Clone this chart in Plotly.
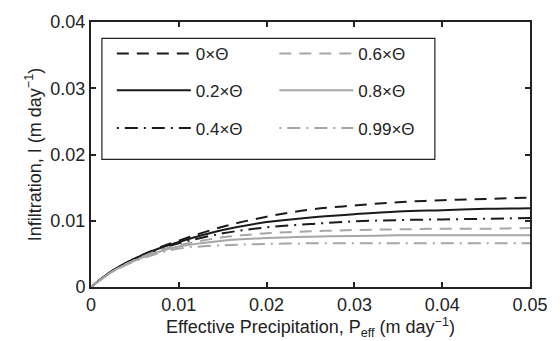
import plotly.graph_objects as go

# Effective precipitation (m/day)
p_eff = [0, 0.0025, 0.005, 0.0075, 0.01, 0.015, 0.02, 0.025, 0.03, 0.035, 0.04, 0.045, 0.05]

# Infiltration (m/day) for each fraction of Theta
inf_0 = [0, 0.0025, 0.0043, 0.0058, 0.0070, 0.0091, 0.0106, 0.0117, 0.0123, 0.0128, 0.0131, 0.0133, 0.0135]
inf_02 = [0, 0.0025, 0.0043, 0.0057, 0.0068, 0.0086, 0.0098, 0.0105, 0.0110, 0.0114, 0.0116, 0.0118, 0.0119]
inf_04 = [0, 0.0025, 0.0042, 0.0056, 0.0066, 0.0081, 0.0090, 0.0095, 0.0099, 0.0101, 0.0102, 0.0103, 0.0104]
inf_06 = [0, 0.0024, 0.0041, 0.0054, 0.0063, 0.0075, 0.0081, 0.0084, 0.0086, 0.0087, 0.0088, 0.0088, 0.0089]
inf_08 = [0, 0.0024, 0.0040, 0.0052, 0.0061, 0.0070, 0.0074, 0.0076, 0.0077, 0.0078, 0.0078, 0.0078, 0.0078]
inf_099 = [0, 0.0023, 0.0039, 0.0050, 0.0058, 0.0063, 0.0065, 0.0066, 0.0066, 0.0066, 0.0066, 0.0066, 0.0066]

labels = ["0×Θ", "0.2×Θ", "0.4×Θ", "0.6×Θ", "0.8×Θ", "0.99×Θ"]
series = [inf_0, inf_02, inf_04, inf_06, inf_08, inf_099]

x_ticks = [0, 0.01, 0.02, 0.03, 0.04, 0.05]
x_ticktext = ["0", "0.01", "0.02", "0.03", "0.04", "0.05"]
y_ticks = [0, 0.01, 0.02, 0.03, 0.04]
y_ticktext = ["0", "0.01", "0.02", "0.03", "0.04"]

BLACK = "#1a1a1a"
GRAY = "#a6a6a6"
DASH = "12px,8px"
DASHDOT = "2px,6px,13px,6px"
styles = [
    (BLACK, DASH), (BLACK, "solid"), (BLACK, DASHDOT),
    (GRAY, DASH), (GRAY, "solid"), (GRAY, DASHDOT),
]

# legend item positions (paper coords): two columns, three rows
W, H = 443.0, 274.0
col_x = [(112 - 91) / W, (276 - 91) / W]
row_y = [(287 - 46) / H, (287 - 84) / H, (287 - 123) / H]

fig = go.Figure()
for i, (lab, ys) in enumerate(zip(labels, series)):
    color, dash = styles[i]
    lname = "legend" if i == 0 else f"legend{i+1}"
    fig.add_trace(go.Scatter(
        x=p_eff, y=ys, mode="lines", name=lab,
        line=dict(color=color, width=2, dash=dash, shape="spline"),
        legend=lname,
    ))

legend_layouts = {}
for i in range(6):
    lname = "legend" if i == 0 else f"legend{i+1}"
    legend_layouts[lname] = dict(
        x=col_x[i // 3], y=row_y[i % 3], xanchor="left", yanchor="middle",
        bgcolor="rgba(0,0,0,0)", borderwidth=0, itemwidth=74,
        font=dict(size=17, color="#222"),
    )

fig.update_layout(
    width=560, height=341,
    margin=dict(l=91, r=26, t=13, b=54),
    paper_bgcolor="white", plot_bgcolor="white",
    font=dict(family="Liberation Sans, Arial, sans-serif", size=18, color="#222"),
    showlegend=True,
    **legend_layouts,
    xaxis=dict(
        range=[0, 0.05], tickvals=x_ticks, ticktext=x_ticktext,
        ticks="inside", ticklen=5, tickwidth=1.5, tickcolor="#222",
        showline=True, linecolor="#222", linewidth=2, mirror="ticks",
        showgrid=False, zeroline=False, tickfont=dict(size=18),
        title=dict(text="Effective Precipitation, P<sub>eff</sub> (m day<sup>−1</sup>)", standoff=0, font=dict(size=18)),
    ),
    yaxis=dict(
        range=[0, 0.04], tickvals=y_ticks, ticktext=y_ticktext,
        ticks="inside", ticklen=5, tickwidth=1.5, tickcolor="#222",
        showline=True, linecolor="#222", linewidth=2, mirror="ticks",
        showgrid=False, zeroline=False, tickfont=dict(size=18),
        title=dict(text="Infiltration, I (m day<sup>−1</sup>)", standoff=4, font=dict(size=18)),
    ),
    shapes=[dict(
        type="rect", xref="paper", yref="paper",
        x0=(102 - 91) / W, x1=(438 - 91) / W, y0=(287 - 155) / H, y1=(287 - 30) / H,
        line=dict(color="#222", width=1.2), fillcolor="rgba(0,0,0,0)", layer="above",
    )],
)

fig.write_html("out.html", config={"displayModeBar": False},
               post_script="document.body.style.margin='0';")
